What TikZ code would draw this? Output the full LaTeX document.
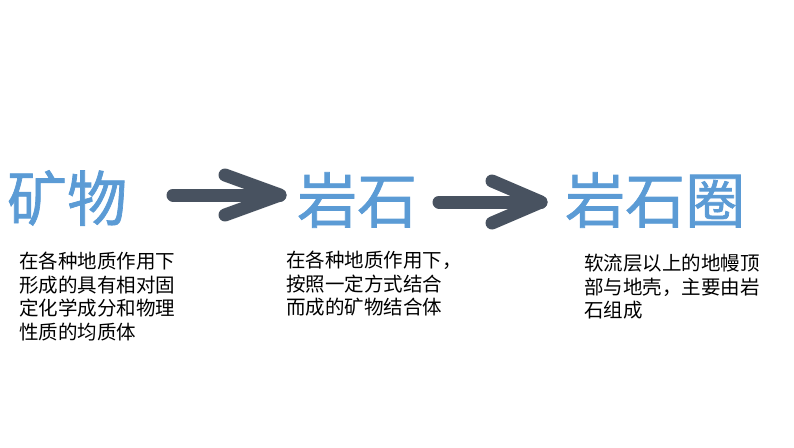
\documentclass[tikz,border=0pt]{standalone}
\usepackage{fontspec}
\newfontfamily\cjk{Noto Sans CJK SC}
\newfontfamily\cjktitle[FakeBold=1.2]{Noto Sans CJK SC}
\definecolor{titleblue}{HTML}{5B9BD5}
\definecolor{arrowgray}{HTML}{485260}
\begin{document}
\begin{tikzpicture}[x=1pt,y=-1pt,
  title/.style={anchor=west,inner sep=0pt,text=titleblue,font=\cjktitle\fontsize{60}{66}\selectfont},
  desc/.style={anchor=north west,inner sep=0pt,align=left,text=black,font=\cjk\fontsize{19.5}{23.5}\selectfont},
  arrowline/.style={draw=arrowgray,line width=13pt,line cap=round,line join=round}]
\useasboundingbox (0,0) rectangle (794,447);
\node[title] (m) at (7,198) {矿物};
\node[title] (r) at (297,200) {岩石};
\node[title] (l) at (565,200) {岩石圈};
\node[desc] (dm) at (19,252) {在各种地质作用下\\形成的具有相对固\\定化学成分和物理\\性质的均质体};
\node[desc] (dr) at (286,251) {在各种地质作用下，\\按照一定方式结合\\而成的矿物结合体};
\node[desc] (dl) at (584,254) {软流层以上的地幔顶\\部与地壳，主要由岩\\石组成};
% arrow 1
\coordinate (s1) at (173,195);
\coordinate (t1) at (280,195);
\coordinate (u1) at (225,175);
\coordinate (d1) at (225,215);
\draw[arrowline] (s1) -- (t1);
\draw[arrowline] (u1) -- (t1) -- (d1);
% arrow 2
\coordinate (s2) at (439,202);
\coordinate (t2) at (541,202);
\coordinate (u2) at (492,181);
\coordinate (d2) at (492,223);
\draw[arrowline] (s2) -- (t2);
\draw[arrowline] (u2) -- (t2) -- (d2);
\end{tikzpicture}
\end{document}
